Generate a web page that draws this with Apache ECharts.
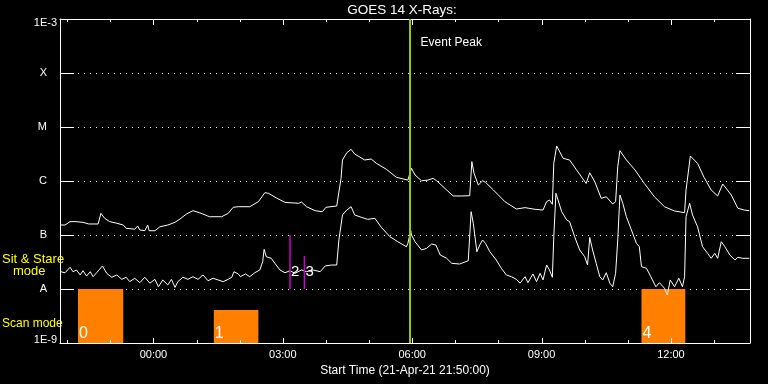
<!DOCTYPE html>
<html><head><meta charset="utf-8">
<script src="https://cdn.jsdelivr.net/npm/echarts@6/dist/echarts.min.js"></script>
<style>html,body{margin:0;padding:0;background:#000;}#c{width:768px;height:384px;}</style>
</head><body><div id="c"></div>
<script>
const FONT = '"Liberation Sans", Arial, sans-serif';
const chartTitle = 'GOES 14 X-Rays:';
const xAxisTitle = 'Start Time (21-Apr-21 21:50:00)';
// time in minutes relative to 00:00 (22-Apr-21); start 21:50, end 13:50
const xStart = -130, xEnd = 830;
const majorTickMinutes = [0, 180, 360, 540, 720];
const minorTickMinutes = [-120, -60, 60, 120, 240, 300, 420, 480, 600, 660, 780];
const yMin = 1e-9, yMax = 1e-3;
const yTickValues = [1e-9, 1e-8, 1e-7, 1e-6, 1e-5, 1e-4, 1e-3];
const yTickNames = ['1E-9', 'A', 'B', 'C', 'M', 'X', '1E-3'];

const longTimes = [
 -129,-123,-116,-109,-98,-90,-77,-73,-68,-61,
 -51,-42,-38,-26,-22,-19,-12,-8,-6,2,
 9,20,30,37,46,55,64,78,95,104,
 111,118,134,146,155,160,172,183,202,206,
 213,225,235,240,255,261,263,269,275,280,
 294,303,310,324,338,354,359,364,373,382,
 389,394,403,417,429,440,443,446,452,458,
 462,473,489,505,517,531,542,547,551,555,
 557,561,570,579,588,602,607,614,623,630,
 639,643,646,649,658,670,683,697,711,725,
 739,741,747,757,766,776,785,792,804,813,
 822,829];
const longFlux = [
 1.53e-7,1.53e-7,1.77e-7,1.77e-7,1.72e-7,1.60e-7,1.60e-7,2.52e-7,2.04e-7,1.77e-7,
 1.65e-7,1.53e-7,1.33e-7,1.28e-7,1.47e-7,1.24e-7,1.20e-7,1.53e-7,1.20e-7,1.20e-7,
 1.42e-7,1.53e-7,1.72e-7,1.98e-7,2.45e-7,2.82e-7,2.59e-7,2.18e-7,2.18e-7,2.52e-7,
 3.26e-7,3.34e-7,3.34e-7,4.14e-7,6.07e-7,5.92e-7,4.78e-7,4.02e-7,3.86e-7,4.08e-7,
 3.34e-7,2.82e-7,2.70e-7,3.26e-7,3.44e-7,1.12e-6,2.45e-6,3.34e-6,3.86e-6,3.16e-6,
 2.45e-6,2.55e-6,2.13e-6,1.65e-6,1.17e-6,1.04e-6,1.72e-6,1.29e-6,1.01e-6,1.04e-6,
 1.12e-6,1.01e-6,7.84e-7,5.28e-7,5.28e-7,5.34e-7,2.28e-6,1.39e-6,8.43e-7,1.01e-6,
 9.46e-7,6.81e-7,4.14e-7,3.03e-7,3.21e-7,2.99e-7,2.90e-7,4.14e-7,4.45e-7,3.70e-7,
 2.13e-6,4.45e-6,2.63e-6,2.45e-6,1.65e-6,9.0e-7,1.42e-6,9.7e-7,4.78e-7,5.1e-7,
 3.75e-7,4.14e-7,1.84e-6,3.64e-6,2.45e-6,1.60e-6,9.0e-7,5.1e-7,3.34e-7,2.78e-7,
 2.59e-7,6.81e-7,2.90e-6,2.13e-6,1.17e-6,6.81e-7,5.28e-7,8.8e-7,5.5e-7,3.13e-7,
 2.90e-7,2.82e-7];

const shortTimes = [
 -129,-123,-116,-112,-107,-102,-98,-93,-88,-84,
 -79,-71,-65,-58,-51,-44,-38,-33,-26,-19,
 -12,-5,2,7,13,20,25,30,34,41,
 48,55,62,69,76,83,90,97,104,109,
 112,118,121,128,134,141,148,152,154,157,
 164,169,176,183,190,197,206,213,222,232,
 239,248,255,258,263,269,275,280,289,298,
 308,317,329,340,352,354,358,359,364,373,
 380,387,393,399,408,415,426,438,440,442,
 445,450,454,458,462,468,477,484,491,498,
 505,510,517,521,528,533,538,542,547,551,
 555,557,560,562,568,575,579,586,593,600,
 604,607,611,616,621,625,630,635,639,643,
 646,649,653,658,665,672,676,679,686,692,
 699,704,711,715,719,725,731,736,739,741,
 746,750,757,764,771,776,781,785,790,795,
 802,809,813,820,829];
const shortFlux = [
 2.09e-8,2.0e-8,2.52e-8,2.09e-8,2.25e-8,1.82e-8,2.18e-8,1.74e-8,2.09e-8,1.69e-8,
 2.0e-8,2.67e-8,1.95e-8,1.65e-8,1.82e-8,1.51e-8,1.65e-8,1.37e-8,1.58e-8,1.31e-8,
 1.65e-8,1.28e-8,1.51e-8,1.10e-8,1.47e-8,1.19e-8,1.51e-8,1.07e-8,1.37e-8,1.65e-8,
 1.51e-8,1.69e-8,1.51e-8,1.82e-8,1.42e-8,1.58e-8,1.47e-8,1.37e-8,1.51e-8,1.65e-8,
 2.09e-8,1.90e-8,1.69e-8,1.90e-8,1.69e-8,2.0e-8,2.25e-8,3.21e-8,5.43e-8,3.96e-8,
 3.70e-8,2.99e-8,2.25e-8,2.0e-8,2.18e-8,1.95e-8,2.25e-8,2.09e-8,2.25e-8,2.09e-8,
 2.67e-8,2.78e-8,2.78e-8,8.08e-8,2.35e-7,2.90e-7,3.34e-7,2.35e-7,2.13e-7,1.95e-7,
 2.04e-7,1.39e-7,9.3e-8,7.5e-8,6.07e-8,7.0e-8,1.20e-7,1.0e-7,7.5e-8,5.28e-8,
 5.66e-8,6.81e-8,6.53e-8,4.26e-8,3.70e-8,2.99e-8,2.90e-8,3.34e-8,3.21e-8,2.70e-7,
 1.65e-7,4.90e-8,6.53e-8,8.08e-8,7.0e-8,4.90e-8,3.44e-8,2.42e-8,1.82e-8,1.69e-8,
 1.51e-8,1.28e-8,1.69e-8,1.31e-8,1.90e-8,1.37e-8,1.95e-8,1.47e-8,2.78e-8,2.25e-8,
 1.65e-8,9.3e-8,5.92e-7,6.34e-7,2.70e-7,1.90e-7,1.77e-7,9.3e-8,5.28e-8,3.96e-8,
 2.78e-8,9.0e-8,5.28e-8,2.99e-8,1.69e-8,1.47e-8,2.0e-8,1.28e-8,1.10e-8,1.95e-8,
 8.08e-8,5.5e-7,3.86e-7,2.18e-7,1.24e-7,7.0e-8,6.07e-8,2.59e-8,2.42e-8,1.69e-8,
 1.10e-8,1.31e-8,1.03e-8,7.74e-9,1.47e-8,1.10e-8,1.58e-8,1.10e-8,1.69e-8,2.18e-7,
 3.86e-7,2.35e-7,1.42e-7,6.07e-8,4.58e-8,3.70e-8,4.58e-8,3.70e-8,7.5e-8,6.07e-8,
 4.26e-8,3.44e-8,3.86e-8,3.70e-8,3.70e-8];

// scan mode intervals
const scanStart = [-105, 84, 679];
const scanEnd = [-42, 146, 740];
const scanTop = [1e-8, 4.1e-9, 1e-8];
const scanBase = 1e-9;
const scanLabels = ['0', '1', '4'];
// sit & stare markers
const stareTimes = [190, 210];
const stareTop = [1e-7, 4.1e-8];
const stareBase = 1e-8;
const stareLabels = ['2', '3'];
// event peak
const eventPeakTime = 357;
const eventPeakLabel = 'Event Peak';

function fmtTime(m) {
  const mm = ((m % 1440) + 1440) % 1440;
  const h = Math.floor(mm / 60), mi = mm % 60;
  return String(h).padStart(2, '0') + ':' + String(mi).padStart(2, '0');
}
function yName(v) {
  const e = Math.log10(v);
  let best = 0, bd = 1e9;
  yTickValues.forEach((t, i) => { const d = Math.abs(Math.log10(t) - e); if (d < bd) { bd = d; best = i; } });
  const n = yTickNames[best];
  if (best === yTickNames.length - 1) return '{t|' + n + '}';
  if (best === 0) return '{b|' + n + '}';
  return '{l|' + n + '}';
}

const white = '#ffffff';
const textGraphics = [
  { type: 'text', x: 402, y: 10, style: { text: chartTitle, fill: white, font: '13.5px ' + FONT, align: 'center', verticalAlign: 'middle' } },
  { type: 'text', x: 2, y: 259, style: { text: 'Sit & Stare', fill: '#ffff00', font: '13px ' + FONT, verticalAlign: 'middle' } },
  { type: 'text', x: 13, y: 271, style: { text: 'mode', fill: '#ffff00', font: '13px ' + FONT, verticalAlign: 'middle' } },
  { type: 'text', x: 2, y: 324, style: { text: 'Scan mode', fill: '#ffff00', font: '12px ' + FONT, verticalAlign: 'middle' } }
];
const chart = echarts.init(document.getElementById('c'), null, { renderer: 'canvas' });
chart.setOption({
  backgroundColor: '#000000',
  animation: false,
  grid: { left: 60, right: 18, top: 19, bottom: 41, containLabel: false },
  graphic: textGraphics,
  xAxis: [
    {
      type: 'value', min: xStart, max: xEnd, position: 'bottom',
      splitLine: { show: false },
      axisLine: { show: true, onZero: false, lineStyle: { color: white, width: 1 } },
      axisTick: { show: false },
      axisLabel: { show: true, customValues: majorTickMinutes, formatter: fmtTime, color: white, fontSize: 11, fontFamily: FONT, margin: 6 },
      name: xAxisTitle, nameLocation: 'middle', nameGap: 19,
      nameTextStyle: { color: white, fontSize: 12, fontFamily: FONT }
    },
    {
      type: 'value', min: xStart, max: xEnd, position: 'top',
      splitLine: { show: false },
      axisLine: { show: true, onZero: false, lineStyle: { color: white, width: 1 } },
      axisTick: { show: false },
      axisLabel: { show: false }
    }
  ],
  yAxis: [
    {
      type: 'log', logBase: 10, min: yMin, max: yMax, splitNumber: 6, position: 'left',
      axisLine: { show: true, onZero: false, lineStyle: { color: white, width: 1 } },
      axisTick: { show: true, inside: true, length: 14, lineStyle: { color: white } },
      minorTick: { show: false },
      axisLabel: {
        color: white, fontSize: 11, fontFamily: FONT, margin: 3, formatter: yName,
        rich: {
          l: { color: white, fontSize: 11, fontFamily: FONT, padding: [0, 10, 0, 0] },
          t: { color: white, fontSize: 11, fontFamily: FONT, padding: [8, 0, 0, 0] },
          b: { color: white, fontSize: 11, fontFamily: FONT, padding: [0, 0, 6, 0] }
        }
      },
      splitLine: { show: true, lineStyle: { color: white, width: 1, type: [1, 5] } }
    },
    {
      type: 'log', logBase: 10, min: yMin, max: yMax, splitNumber: 6, position: 'right',
      axisLine: { show: true, onZero: false, lineStyle: { color: white, width: 1 } },
      axisTick: { show: true, inside: true, length: 14, lineStyle: { color: white } },
      axisLabel: { show: false },
      splitLine: { show: false }
    }
  ],
  series: [
    {
      name: 'scan', type: 'custom', xAxisIndex: 0, yAxisIndex: 0, z: 1,
      data: scanStart.map((s, i) => [s, scanEnd[i], scanTop[i], scanBase]),
      encode: { x: [0, 1], y: [2, 3] },
      renderItem: (params, api) => {
        const p0 = api.coord([api.value(0), api.value(2)]);
        const p1 = api.coord([api.value(1), api.value(3)]);
        return { type: 'group', children: [
          { type: 'rect', shape: { x: p0[0], y: p0[1], width: p1[0] - p0[0], height: p1[1] - p0[1] }, style: { fill: '#ff8000' } },
          { type: 'text', x: p0[0] + 1, y: p1[1] - 9, style: { text: scanLabels[params.dataIndex], fill: white, font: '16px ' + FONT, verticalAlign: 'middle' } }
        ] };
      }
    },
    {
      name: 'long', type: 'line', xAxisIndex: 0, yAxisIndex: 0, z: 2,
      data: longTimes.map((t, i) => [t, longFlux[i]]),
      showSymbol: false, symbol: 'none',
      lineStyle: { color: white, width: 1 }
    },
    {
      name: 'short', type: 'line', xAxisIndex: 0, yAxisIndex: 0, z: 2,
      data: shortTimes.map((t, i) => [t, shortFlux[i]]),
      showSymbol: false, symbol: 'none',
      lineStyle: { color: white, width: 1 }
    },
    {
      name: 'stare', type: 'custom', xAxisIndex: 0, yAxisIndex: 0, z: 3,
      data: stareTimes.map((t, i) => [t, stareTop[i], stareBase]),
      encode: { x: 0, y: [1, 2] },
      renderItem: (params, api) => {
        const p0 = api.coord([api.value(0), api.value(1)]);
        const p1 = api.coord([api.value(0), api.value(2)]);
        return { type: 'group', children: [
          { type: 'line', shape: { x1: p0[0], y1: p0[1], x2: p1[0], y2: p1[1] }, style: { stroke: '#cc00cc', lineWidth: 1.5 } },
          { type: 'text', x: p0[0] + 1, y: p1[1] - 17.5, style: { text: stareLabels[params.dataIndex], fill: white, font: '15px ' + FONT, verticalAlign: 'middle' } }
        ] };
      }
    },
    {
      name: 'event', type: 'custom', xAxisIndex: 0, yAxisIndex: 0, z: 4,
      data: [[eventPeakTime, yMax, yMin]],
      encode: { x: 0, y: [1, 2] },
      renderItem: (params, api) => {
        const p0 = api.coord([api.value(0), api.value(1)]);
        const p1 = api.coord([api.value(0), api.value(2)]);
        return { type: 'group', children: [
          { type: 'line', shape: { x1: p0[0], y1: p0[1], x2: p1[0], y2: p1[1] }, style: { stroke: '#99cc00', lineWidth: 2 } },
          { type: 'text', x: p0[0] + 10.5, y: p0[1] + 24, style: { text: eventPeakLabel, fill: white, font: '12px ' + FONT, verticalAlign: 'middle' } }
        ] };
      }
    }
  ]
});

// hour ticks on the top and bottom frame, positioned through the x axis scale
const tickGraphics = [];
const yBot = chart.convertToPixel({ yAxisIndex: 0 }, yMin);
const yTop = chart.convertToPixel({ yAxisIndex: 0 }, yMax);
majorTickMinutes.concat(minorTickMinutes).forEach(t => {
  const major = majorTickMinutes.indexOf(t) >= 0;
  const x = Math.round(chart.convertToPixel({ xAxisIndex: 0 }, t)) + 0.5;
  const lb = major ? 5 : 3, lt = major ? 6 : 3;
  tickGraphics.push({ type: 'line', z: 100, silent: true, shape: { x1: x, y1: yBot, x2: x, y2: yBot - lb }, style: { stroke: white, lineWidth: 1 } });
  tickGraphics.push({ type: 'line', z: 100, silent: true, shape: { x1: x, y1: yTop, x2: x, y2: yTop + lt }, style: { stroke: white, lineWidth: 1 } });
});
chart.setOption({ graphic: textGraphics.concat(tickGraphics) });
</script></body></html>
